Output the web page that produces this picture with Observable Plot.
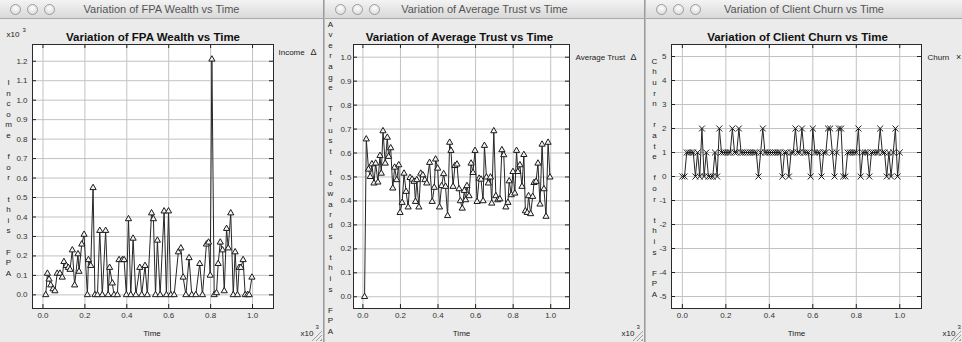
<!DOCTYPE html>
<html><head><meta charset="utf-8">
<script src="https://cdn.jsdelivr.net/npm/d3@7"></script>
<script src="https://cdn.jsdelivr.net/npm/@observablehq/plot@0.6"></script>
<style>
html,body{margin:0;padding:0;background:#b9b9b9;}
body{width:962px;height:342px;position:relative;overflow:hidden;font-family:"Liberation Sans",Arial,sans-serif;}
.win{position:absolute;top:0;height:342px;background:#ebebeb;overflow:hidden;}
.bar{position:absolute;left:0;right:0;top:0;height:18px;background:linear-gradient(#f3f3f3,#d9d9d9);border-bottom:1px solid #a9a9a9;}
.bar .t{position:absolute;left:0;right:0;top:3px;text-align:center;font-size:11px;color:#555;white-space:nowrap;}
.btn{position:absolute;top:4px;width:9px;height:9px;border-radius:50%;border:1px solid #9c9c9c;background:radial-gradient(circle at 50% 35%,#fdfdfd,#d6d6d6);}
.body{position:absolute;left:0;top:19px;}
.grip{position:absolute;right:1px;bottom:1px;width:11px;height:11px;background:repeating-linear-gradient(135deg,transparent 0 2px,#a0a0a0 2px 3px);clip-path:polygon(100% 0,100% 100%,0 100%);}
.sep{position:absolute;top:0;height:342px;width:2px;background:linear-gradient(90deg,#8a8a8a,#cfcfcf);}
</style>
</head><body>
<div class="win" id="w1" style="left:0;width:323px"><div class="bar"><span class="btn" style="left:10px"></span><span class="btn" style="left:27px"></span><span class="btn" style="left:44px"></span><div class="t">Variation of FPA Wealth vs Time</div></div><div class="body" id="p1"></div><div class="grip"></div></div>
<div class="sep" style="left:323px"></div>
<div class="win" id="w2" style="left:325px;width:319px"><div class="bar"><span class="btn" style="left:10px"></span><span class="btn" style="left:27px"></span><span class="btn" style="left:44px"></span><div class="t">Variation of Average Trust vs Time</div></div><div class="body" id="p2"></div><div class="grip"></div></div>
<div class="sep" style="left:644px"></div>
<div class="win" id="w3" style="left:646px;width:316px"><div class="bar"><span class="btn" style="left:10px"></span><span class="btn" style="left:27px"></span><span class="btn" style="left:44px"></span><div class="t">Variation of Client Churn vs Time</div></div><div class="body" id="p3"></div><div class="grip"></div></div>
<script>
// ---- data (time in units of x10^3) ----
const xTicks = [0, 0.2, 0.4, 0.6, 0.8, 1.0];
const wealthTicks = [0, 0.1, 0.2, 0.3, 0.4, 0.5, 0.6, 0.7, 0.8, 0.9, 1.0, 1.1, 1.2];
const trustTicks = [0, 0.1, 0.2, 0.3, 0.4, 0.5, 0.6, 0.7, 0.8, 0.9, 1.0];
const churnTicks = [-5, -4, -3, -2, -1, 0, 1, 2, 3, 4, 5];

const wealthTime = [0.013,0.021,0.029,0.037,0.048,0.057,0.068,0.081,0.092,0.100,
0.111,0.121,0.129,0.140,0.151,0.167,0.172,0.185,0.196,0.212,
0.217,0.228,0.239,0.248,0.260,0.271,0.283,0.299,0.311,0.318,
0.331,0.339,0.355,0.363,0.379,0.387,0.398,0.408,0.419,0.430,
0.443,0.462,0.471,0.487,0.498,0.518,0.527,0.537,0.546,0.559,
0.578,0.589,0.599,0.610,0.626,0.646,0.658,0.669,0.682,0.697,
0.710,0.729,0.748,0.761,0.780,0.790,0.798,0.806,0.817,0.828,
0.836,0.846,0.857,0.865,0.876,0.884,0.896,0.908,0.917,0.928,
0.936,0.944,0.955,0.965,0.976,0.984,0.997];
const wealthValue = [0.00,0.11,0.08,0.05,0.03,0.02,0.11,0.11,0.09,0.17,
0.15,0.14,0.13,0.23,0.05,0.21,0.12,0.26,0.31,0.00,
0.18,0.15,0.55,0.00,0.00,0.33,0.00,0.33,0.00,0.14,
0.06,0.00,0.00,0.18,0.18,0.18,0.00,0.39,0.00,0.29,
0.00,0.14,0.00,0.15,0.00,0.42,0.39,0.00,0.28,0.00,
0.43,0.00,0.43,0.00,0.00,0.22,0.24,0.09,0.00,0.19,
0.00,0.00,0.16,0.00,0.26,0.27,0.10,1.21,0.00,0.01,
0.16,0.27,0.23,0.02,0.34,0.24,0.42,0.00,0.22,0.00,
0.14,0.14,0.18,0.00,0.00,0.00,0.09];

const trustTime = [0.009,0.018,0.030,0.039,0.048,0.059,0.068,0.080,0.091,0.098,0.107,
0.119,0.130,0.137,0.148,0.159,0.169,0.180,0.191,0.198,0.209,
0.219,0.230,0.241,0.251,0.262,0.273,0.280,0.287,0.298,0.308,
0.319,0.330,0.340,0.355,0.369,0.380,0.387,0.398,0.408,0.419,
0.430,0.440,0.451,0.462,0.469,0.480,0.490,0.501,0.512,0.519,
0.529,0.540,0.547,0.554,0.565,0.576,0.586,0.597,0.608,0.619,
0.629,0.640,0.647,0.658,0.668,0.679,0.686,0.697,0.708,0.718,
0.729,0.740,0.750,0.761,0.772,0.779,0.790,0.799,0.809,0.818,
0.825,0.836,0.847,0.857,0.865,0.875,0.882,0.893,0.904,0.911,
0.922,0.932,0.943,0.954,0.964,0.975,0.986,0.996];
const trustValue = [0.000,0.658,0.532,0.501,0.554,0.474,0.557,0.478,0.589,0.515,0.692,
0.557,0.665,0.585,0.621,0.453,0.540,0.488,0.550,0.351,0.393,
0.515,0.439,0.374,0.497,0.490,0.481,0.397,0.488,0.374,0.515,
0.508,0.488,0.474,0.560,0.397,0.456,0.574,0.536,0.374,0.463,
0.513,0.460,0.338,0.644,0.610,0.460,0.547,0.553,0.450,0.400,
0.369,0.443,0.404,0.463,0.421,0.557,0.518,0.610,0.397,0.494,
0.490,0.400,0.631,0.499,0.474,0.499,0.390,0.692,0.421,0.404,
0.408,0.613,0.592,0.374,0.393,0.483,0.425,0.522,0.432,0.610,
0.522,0.550,0.460,0.593,0.358,0.351,0.421,0.346,0.418,0.476,
0.481,0.557,0.386,0.636,0.450,0.335,0.644,0.499];

const churnTime = [0.00,0.01,0.02,0.03,0.04,0.05,0.06,0.07,0.08,0.09,
0.10,0.11,0.12,0.13,0.14,0.15,0.16,0.17,0.18,0.19,
0.20,0.21,0.22,0.23,0.24,0.25,0.26,0.27,0.28,0.29,
0.30,0.31,0.32,0.33,0.34,0.35,0.36,0.37,0.38,0.39,
0.40,0.41,0.42,0.43,0.44,0.45,0.46,0.47,0.48,0.49,
0.50,0.51,0.52,0.53,0.54,0.55,0.56,0.57,0.58,0.59,
0.60,0.61,0.62,0.63,0.64,0.65,0.66,0.67,0.68,0.69,
0.70,0.71,0.72,0.73,0.74,0.75,0.76,0.77,0.78,0.79,
0.80,0.81,0.82,0.83,0.84,0.85,0.86,0.87,0.88,0.89,
0.90,0.91,0.92,0.93,0.94,0.95,0.96,0.97,0.98,0.99,1.00];
const churnValue = [0,0,1,1,1,1,0,1,0,2,
0,1,0,0,0,1,0,2,1,1,
1,1,1,2,1,1,2,1,1,1,
1,1,1,1,1,0,1,2,1,1,
1,1,1,1,1,1,0,1,1,0,
1,1,2,1,1,2,1,1,1,0,
2,1,1,1,0,1,1,2,2,1,
0,1,2,2,0,0,1,1,1,1,
1,2,0,1,1,1,0,1,1,1,
1,2,1,1,0,1,0,1,2,0,1];

const zip = (t, v) => t.map((d, i) => ({t: d, v: v[i]}));
const FONT = "'Liberation Sans', Arial, Helvetica, sans-serif";
const LH = 10.6; // spacing of the letter-stacked y titles

function makePanel(o) {
  const H = 323, mt = 25, mb = 34;
  const fh = H - mt - mb, fw = o.width - o.ml - o.mr;
  const T = (txt, opts) => Plot.text([txt], {lineAnchor: "middle", fill: "#222", fontSize: 8, ...opts});
  const marks = [
    Plot.frame({fill: "white", stroke: "none"}),
    Plot.gridX(xTicks, {stroke: "#c2c2c2", strokeOpacity: 1}),
    Plot.gridY(o.yTicks, {stroke: "#c2c2c2", strokeOpacity: 1}),
    Plot.tickX(xTicks, {x: d => d, insetTop: fh - 4, stroke: "#222"}),
    Plot.tickX(xTicks, {x: d => d, insetBottom: fh - 4, stroke: "#222"}),
    Plot.tickY(o.yTicks, {y: d => d, insetLeft: fw - 4, stroke: "#222"}),
    Plot.tickY(o.yTicks, {y: d => d, insetRight: fw - 4, stroke: "#222"}),
    Plot.line(o.data, {x: "t", y: "v", stroke: "#262626", strokeWidth: 1}),
    Plot.dot(o.data, {x: "t", y: "v", symbol: o.symbol, r: o.r, fill: o.fill, stroke: "#1a1a1a", strokeWidth: 1}),
    Plot.frame({stroke: "#2a2a2a"}),
    Plot.axisX(xTicks, {tickSize: 0, tickPadding: 4, tickFormat: d3.format(".1f"), label: null, fontSize: 8}),
    Plot.axisY(o.yTicks, {tickSize: 0, tickPadding: o.yPad, tickFormat: o.yFormat, label: null, fontSize: 8}),
    T(o.title, {frameAnchor: "top", dx: o.titleDx, dy: -7, fontSize: 11.5, fontWeight: "bold", fill: "#111"}),
    T(o.legend, {frameAnchor: "top-right", dx: o.legDx, dy: o.legDy, textAnchor: "start"}),
    T(o.legendSym, {frameAnchor: "top-right", dx: o.symDx, dy: o.legDy, textAnchor: "middle", fontSize: 9}),
    T("Time", {frameAnchor: "bottom", dx: o.timeDx, dy: 25}),
    T("x10", {frameAnchor: "bottom-right", dx: o.xExpDx, dy: 25, textAnchor: "start"}),
    T("3", {frameAnchor: "bottom-right", dx: o.xExpDx + 15, dy: 19, textAnchor: "start", fontSize: 6})
  ];
  // letter-stacked y title: one text per character, centred on the frame
  const chars = o.ylabel.split("");
  chars.forEach((ch, i) => {
    if (ch === " ") return;
    marks.push(T(ch, {frameAnchor: "left", dx: o.labDx, dy: 1.3 + (i - (chars.length - 1) / 2) * LH, textAnchor: "middle"}));
  });
  if (o.topExp) {
    marks.push(T("x10", {frameAnchor: "top-left", dx: -26, dy: -10, textAnchor: "start"}));
    marks.push(T("3", {frameAnchor: "top-left", dx: -10, dy: -14, textAnchor: "start", fontSize: 6}));
  }
  return Plot.plot({
    width: o.width, height: H,
    marginLeft: o.ml, marginRight: o.mr, marginTop: mt, marginBottom: mb,
    x: {domain: [-0.05, 1.1]},
    y: {domain: o.yDomain},
    style: {fontFamily: FONT, fontSize: "8px", background: "transparent", color: "#333", overflow: "visible"},
    marks
  });
}

document.getElementById("p1").append(makePanel({
  width: 323, ml: 32, mr: 50, yDomain: [-0.07, 1.286], yTicks: wealthTicks, yFormat: d3.format(".1f"), yPad: 5,
  data: zip(wealthTime, wealthValue), symbol: "triangle", r: 2.3, fill: "#f4f4f4",
  title: "Variation of FPA Wealth vs Time", titleDx: 0, timeDx: -1,
  legend: "Income", legendSym: "Δ", legDx: 5, symDx: 40, legDy: 8,
  xExpDx: 27, topExp: true, labDx: -24, ylabel: "Income for this FPA"
}));
document.getElementById("p2").append(makePanel({
  width: 319, ml: 28, mr: 75, yDomain: [-0.049, 1.053], yTicks: trustTicks, yFormat: d3.format(".1f"), yPad: 2,
  data: zip(trustTime, trustValue), symbol: "triangle", r: 2.3, fill: "#f4f4f4",
  title: "Variation of Average Trust vs Time", titleDx: -2, timeDx: 0,
  legend: "Average Trust", legendSym: "Δ", legDx: 6, symDx: 64, legDy: 13,
  xExpDx: 52, topExp: false, labDx: -23, ylabel: "Average Trust towards this FPA"
}));
document.getElementById("p3").append(makePanel({
  width: 316, ml: 25, mr: 41, yDomain: [-5.5, 5.5], yTicks: churnTicks, yFormat: d => String(d), yPad: 5,
  data: zip(churnTime, churnValue), symbol: "times", r: 2.8, fill: "none",
  title: "Variation of Client Churn vs Time", titleDx: 1, timeDx: 0,
  legend: "Churn", legendSym: "×", legDx: 6, symDx: 37, legDy: 13,
  xExpDx: 21, topExp: false, labDx: -17, ylabel: "Churn rate for this FPA"
}));
</script>
</body></html>
